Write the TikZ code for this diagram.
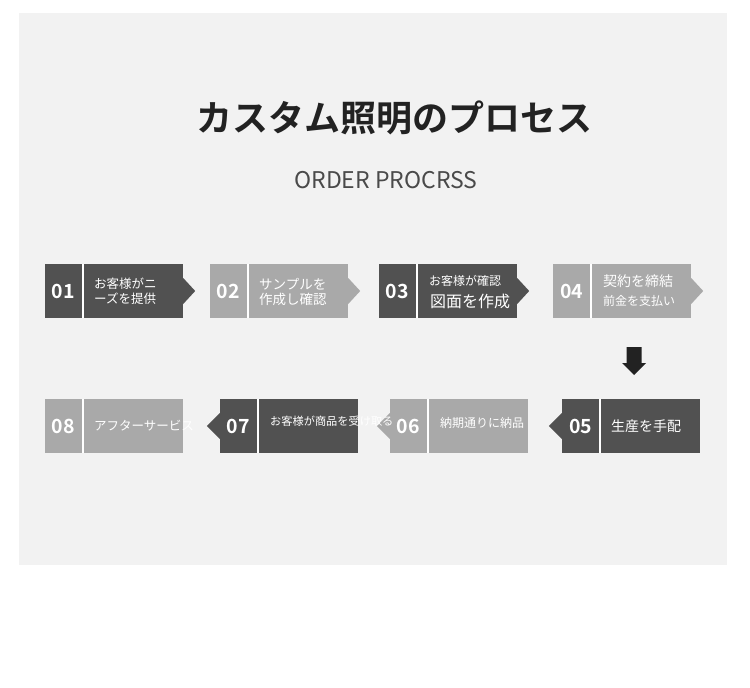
\documentclass[tikz,border=0pt]{standalone}
\usepackage{fontspec}
\newfontfamily\jp{Noto Sans CJK JP}[BoldFont={Noto Sans CJK JP Bold}]
\definecolor{panelgray}{HTML}{F2F2F2}
\definecolor{darkstep}{HTML}{515151}
\definecolor{lightstep}{HTML}{A9A9A9}
\definecolor{titleink}{HTML}{222222}
\definecolor{subink}{HTML}{4A4A4A}
\tikzset{
  numbox/.style={inner sep=0pt, minimum width=37pt, minimum height=54pt, text=white, font=\jp\bfseries\fontsize{19.5}{20}\selectfont},
  txtbox/.style={inner sep=0pt, minimum width=99pt, minimum height=54pt},
  lbl/.style={text=white, inner sep=0pt, anchor=west, font=\jp\fontsize{12.5}{13}\selectfont},
}
% #1 name, #2 left x, #3 center y, #4 colour, #5 number
\newcommand\procstep[5]{%
  \node[numbox, fill=#4] (n#1) at (#2+18.5,#3) {#5};
  \node[txtbox, fill=#4] (t#1) at (#2+88.5,#3) {};
}
\begin{document}
\begin{tikzpicture}[x=1pt,y=-1pt]
\useasboundingbox (0,0) rectangle (750,688);
\fill[white] (0,0) rectangle (750,688);
\fill[panelgray] (19,13) rectangle (727,565);

\node[font=\jp\bfseries\fontsize{36}{36}\selectfont, text=titleink] (title) at (394,118) {カスタム照明のプロセス};
\node[font=\jp\fontsize{23}{23}\selectfont, text=subink] (sub) at (386,180) {ORDER PROCRSS};

% row 1
\procstep{1}{45}{291}{darkstep}{01}
\procstep{2}{210}{291}{lightstep}{02}
\procstep{3}{379}{291}{darkstep}{03}
\procstep{4}{553}{291}{lightstep}{04}
% row 2
\procstep{8}{45}{426}{lightstep}{08}
\procstep{7}{220}{426}{darkstep}{07}
\procstep{6}{390}{426}{lightstep}{06}
\procstep{5}{562}{426}{darkstep}{05}

% pointer triangles
\fill[darkstep]  (t1.east) ++(0,-13) -- ++(12,13) -- ++(-12,13) -- cycle;
\fill[lightstep] (t2.east) ++(0,-13) -- ++(12,13) -- ++(-12,13) -- cycle;
\fill[darkstep]  (t3.east) ++(0,-13) -- ++(12,13) -- ++(-12,13) -- cycle;
\fill[lightstep] (t4.east) ++(0,-13) -- ++(12,13) -- ++(-12,13) -- cycle;
\fill[darkstep]  (n7.west) ++(0,-13) -- ++(-13,13) -- ++(13,13) -- cycle;
\fill[lightstep] (n6.west) ++(0,-13) -- ++(-13,13) -- ++(13,13) -- cycle;
\fill[darkstep]  (n5.west) ++(0,-13) -- ++(-13,13) -- ++(13,13) -- cycle;

% labels
\node[lbl] (l1a) at (94,284) {お客様がニ};
\node[lbl] (l1b) at (94,299) {ーズを提供};
\node[lbl, font=\jp\fontsize{13.5}{14}\selectfont] (l2a) at (259,284) {サンプルを};
\node[lbl, font=\jp\fontsize{13.5}{14}\selectfont] (l2b) at (259,299) {作成し確認};
\node[lbl, font=\jp\fontsize{12}{12}\selectfont] (l3a) at (429,281) {お客様が確認};
\node[lbl, font=\jp\fontsize{16}{16}\selectfont] (l3b) at (430,301) {図面を作成};
\node[lbl, font=\jp\fontsize{14}{14}\selectfont] (l4a) at (603,281) {契約を締結};
\node[lbl, font=\jp\fontsize{12}{12}\selectfont] (l4b) at (603,301) {前金を支払い};
\node[lbl] (l8) at (94,426) {アフターサービス};
\node[lbl, font=\jp\fontsize{11.2}{12}\selectfont] (l7) at (270,421) {お客様が商品を受け取る};
\node[lbl, font=\jp\fontsize{12}{12}\selectfont] (l6) at (440,423) {納期通りに納品};
\node[lbl, font=\jp\fontsize{14}{14}\selectfont] (l5) at (611,426) {生産を手配};

% white separators
\foreach \s in {1,2,3,4,5,6,7,8}{
  \draw[white, line width=2pt] (n\s.north east) ++(1,0) -- ++(0,54);
}

% down arrow
\coordinate (da) at (634,347);
\fill[titleink] (da) ++(-7.5,0) -- ++(15,0) -- ++(0,16) -- ++(4.5,0) -- (634,375) -- (622,363) -- ++(4.5,0) -- cycle;
\end{tikzpicture}
\end{document}
